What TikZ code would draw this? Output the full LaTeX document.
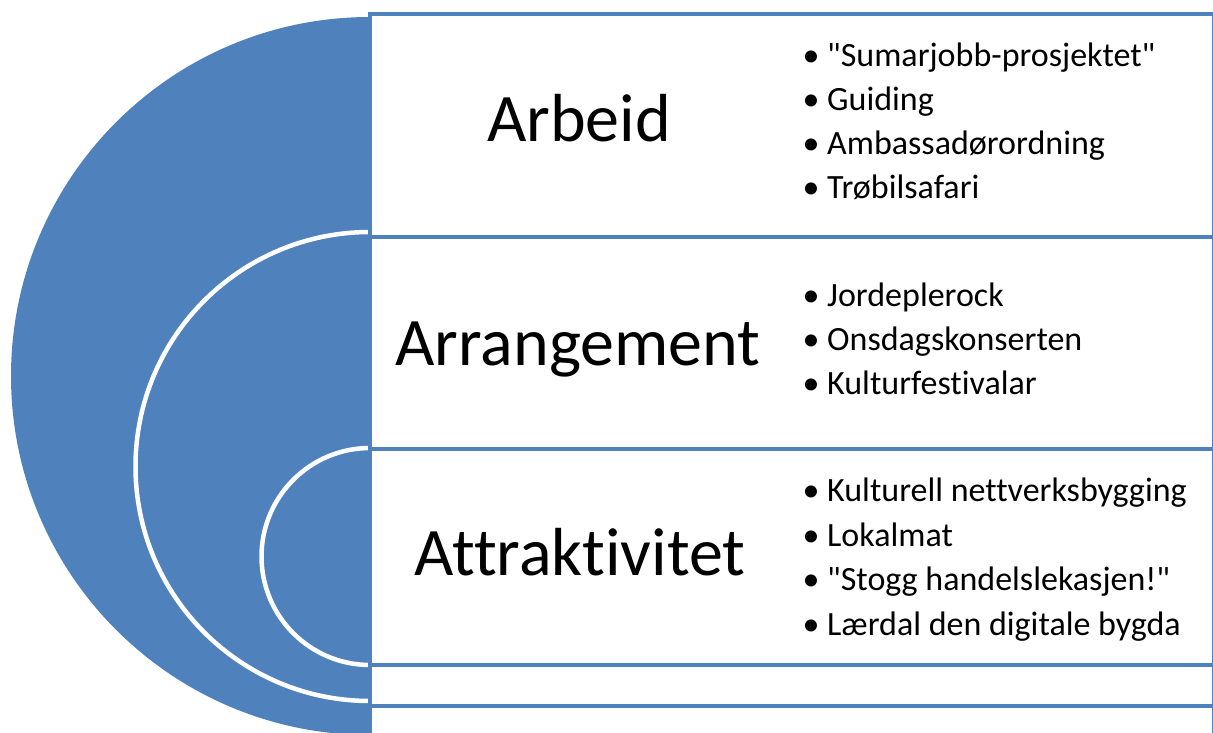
\documentclass[tikz,border=0pt]{standalone}
\usepackage{fontspec}
\setmainfont{Carlito}[Ligatures={TeXOff,NoCommon}]
\definecolor{accblue}{HTML}{4F81BD}
\begin{document}
\begin{tikzpicture}[x=1pt,y=-1pt,
  panel/.style={draw=accblue,line width=4pt,fill=white},
  ring/.style={draw=white,line width=4.5pt},
  title/.style={anchor=base,inner sep=0pt,font=\fontsize{68}{80}\selectfont},
  bul/.style={anchor=base,inner sep=0pt,font=\fontsize{34}{40}\selectfont},
  item/.style={anchor=base west,inner sep=0pt,font=\fontsize{34}{40}\selectfont}]
\useasboundingbox (0,0) rectangle (1213,733);
\begin{scope}
  \clip (-10,-10) rectangle (370,745);
  \fill[accblue] (370,376) circle[radius=359];
  \draw[ring] (370,466.5) circle[radius=234.5];
  \draw[ring] (370,556.5) circle[radius=108.5];
\end{scope}
\draw[panel] (370,14) rectangle (1214,237);
\draw[panel] (370,237) rectangle (1214,449);
\draw[panel] (370,449) rectangle (1214,665);
\draw[panel] (370,665) rectangle (1214,705.5);
\draw[panel] (370,705.5) rectangle (1214,760);
\node[title] (t1) at (579,142) {Arbeid};
\node[title] (t2) at (578,365) {Arrangement};
\node[title] (t3) at (580,575) {Attraktivitet};
% box 1
\node[bul] (b11) at (811,66.5) {•};
\node[item] (i11) at (827,66.5) {"Sumarjobb-prosjektet"};
\node[bul] (b12) at (811,110.5) {•};
\node[item] (i12) at (827,110.5) {Guiding};
\node[bul] (b13) at (811,154.5) {•};
\node[item] (i13) at (827,154.5) {Ambassadørordning};
\node[bul] (b14) at (811,198.5) {•};
\node[item] (i14) at (827,198.5) {Trøbilsafari};
% box 2
\node[bul] (b21) at (811,306) {•};
\node[item] (i21) at (827,306) {Jordeplerock};
\node[bul] (b22) at (811,350) {•};
\node[item] (i22) at (827,350) {Onsdagskonserten};
\node[bul] (b23) at (811,394) {•};
\node[item] (i23) at (827,394) {Kulturfestivalar};
% box 3
\node[bul] (b31) at (811,501.5) {•};
\node[item] (i31) at (827,501.5) {Kulturell nettverksbygging};
\node[bul] (b32) at (811,546) {•};
\node[item] (i32) at (827,546) {Lokalmat};
\node[bul] (b33) at (811,590.5) {•};
\node[item] (i33) at (827,590.5) {"Stogg handelslekasjen!"};
\node[bul] (b34) at (811,635) {•};
\node[item] (i34) at (827,635) {Lærdal den digitale bygda};
\end{tikzpicture}
\end{document}
